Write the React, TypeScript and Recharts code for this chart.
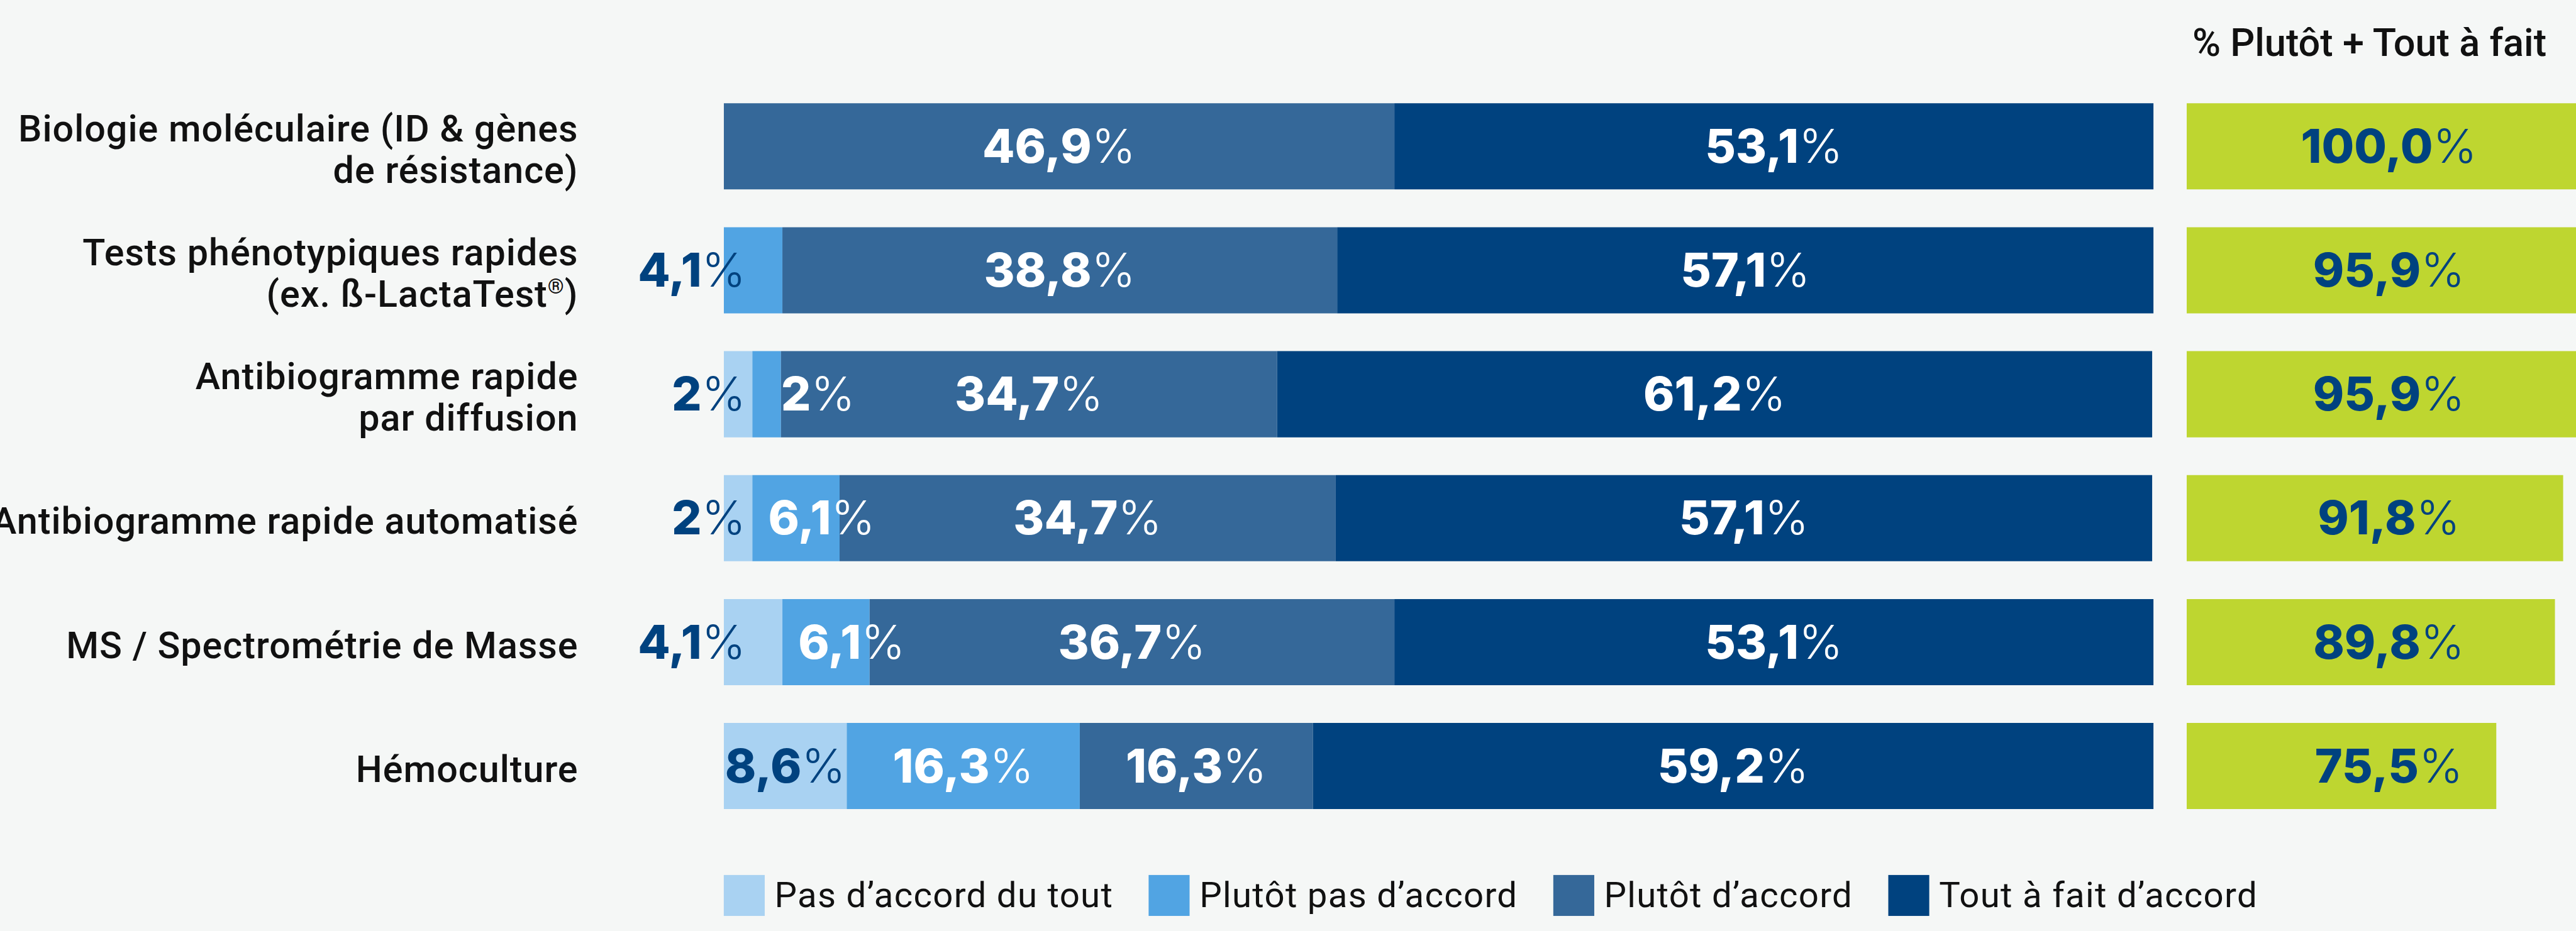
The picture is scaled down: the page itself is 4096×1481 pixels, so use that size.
import React from 'react';
import { BarChart, Bar, XAxis, YAxis, LabelList, Legend } from 'recharts';

const categories = [
  'Biologie moléculaire (ID & gènes\nde résistance)',
  'Tests phénotypiques rapides\n(ex. ß-LactaTest®)',
  'Antibiogramme rapide\npar diffusion',
  'Antibiogramme rapide automatisé',
  'MS / Spectrométrie de Masse',
  'Hémoculture',
];
const pasDuTout = [0, 0, 2, 2, 4.1, 8.6];
const plutotPas = [0, 4.1, 2, 6.1, 6.1, 16.3];
const plutot = [46.9, 38.8, 34.7, 34.7, 36.7, 16.3];
const toutAFait = [53.1, 57.1, 61.2, 57.1, 53.1, 59.2];
const agreeTotal = [100, 95.9, 95.9, 91.8, 89.8, 75.5];

const seriesNames = [
  'Pas d’accord du tout',
  'Plutôt pas d’accord',
  'Plutôt d’accord',
  'Tout à fait d’accord',
];
const seriesKeys = ['pasDuTout', 'plutotPas', 'plutot', 'toutAFait'];
const seriesColors = ['#a9d2f2', '#51a4e3', '#356899', '#00427f'];

const BG = '#f5f7f6';
const GREEN = '#bed630';
const DARK = '#00427f';
const SCALE = 4096 / 4214;
const PLOT_LEFT = 1184;

const rows = categories.map((name, i) => ({
  name,
  pasDuTout: pasDuTout[i],
  plutotPas: plutotPas[i],
  plutot: plutot[i],
  toutAFait: toutAFait[i],
  total: agreeTotal[i],
}));

const fmt = (v: number) => String(v).replace('.', ',');

const ValueText = ({ x, y, anchor, fill, text }: any) => (
  <text x={x} y={y} textAnchor={anchor} fill={fill} fontFamily='Inter' fontSize={77}>
    <tspan fontWeight={800}>{text}</tspan>
    <tspan fontWeight={300}>%</tspan>
  </text>
);

const makeSegmentLabel = (s: number) => (props: any) => {
  const { x, y, width, height, value } = props;
  if (!value) return null;
  // segment sits at the very start of the bar
  const startsBar = Math.abs(Number(x) - PLOT_LEFT) < 2;
  let anchor = 'middle';
  let tx = x + width / 2;
  let fill = s === 0 ? DARK : '#ffffff';
  if (startsBar && width < 120) {
    anchor = 'end';
    tx = x + 36;
    fill = DARK;
  } else if (!startsBar && width < 60) {
    anchor = 'start';
    tx = x + width;
  } else if (!startsBar && width < 200) {
    anchor = 'start';
    tx = x + 26;
  }
  return <ValueText x={tx} y={y + height / 2 + 27} anchor={anchor} fill={fill} text={fmt(value)} />;
};

const TotalLabel = (props: any) => {
  const { x, y, height, value } = props;
  return (
    <ValueText
      x={x + 331}
      y={y + height / 2 + 27}
      anchor='middle'
      fill={DARK}
      text={value.toFixed(1).replace('.', ',')}
    />
  );
};

const renderLine = (line: string) => {
  const parts = line.split('®');
  if (parts.length === 1) return line;
  return (
    <>
      {parts[0]}
      <tspan fontSize={34} dy={-22}>®</tspan>
      <tspan dy={22}>{parts[1]}</tspan>
    </>
  );
};

const CategoryTick = (props: any) => {
  const { y, payload } = props;
  const lines = String(payload.value).split('\n');
  const lh = 68;
  const base = y + 26 - ((lines.length - 1) * lh) / 2;
  return (
    <text
      textAnchor='end'
      fontFamily='Roboto'
      fontWeight={500}
      fontSize={61}
      letterSpacing={1}
      fill='#111'
    >
      {lines.map((l, i) => (
        <tspan key={i} x={946} y={base + i * lh}>
          {renderLine(l)}
        </tspan>
      ))}
    </text>
  );
};

const renderLegend = (props: any) => {
  const payload = [...(props.payload || [])].sort(
    (a: any, b: any) => seriesNames.indexOf(a.value) - seriesNames.indexOf(b.value)
  );
  return (
    <div style={{ display: 'flex', alignItems: 'center' }}>
      {payload.map((entry: any, i: number) => (
        <div key={i} style={{ display: 'flex', alignItems: 'center', marginRight: 58 }}>
          <div style={{ width: 67, height: 67, background: entry.color, marginRight: 16 }} />
          <span
            style={{
              fontFamily: 'Roboto',
              fontSize: 58,
              letterSpacing: 1.3,
              color: '#111',
              lineHeight: '67px',
              whiteSpace: 'nowrap',
            }}
          >
            {entry.value}
          </span>
        </div>
      ))}
    </div>
  );
};

export default function App() {
  return (
    <div style={{ position: 'fixed', inset: 0, background: BG, overflow: 'hidden' }}>
      <div
        style={{
          position: 'absolute',
          left: 0,
          top: 0,
          width: 4214,
          height: 1524,
          transform: `scale(${SCALE})`,
          transformOrigin: '0 0',
        }}
      >
        <div style={{ position: 'absolute', left: 0, top: 0 }}>
          <BarChart
            layout='vertical'
            width={3540}
            height={1524}
            data={rows}
            margin={{ top: 138, right: 17, bottom: 169, left: 0 }}
          >
            <XAxis type='number' domain={[0, 100]} allowDataOverflow hide />
            <YAxis
              type='category'
              dataKey='name'
              width={PLOT_LEFT}
              axisLine={false}
              tickLine={false}
              interval={0}
              tick={<CategoryTick />}
            />
            {seriesKeys.map((key, s) => (
              <Bar
                key={key}
                dataKey={key}
                name={seriesNames[s]}
                stackId='a'
                fill={seriesColors[s]}
                barSize={141}
                isAnimationActive={false}
              >
                <LabelList dataKey={key} content={makeSegmentLabel(s)} />
              </Bar>
            ))}
            <Legend
              layout='horizontal'
              verticalAlign='middle'
              align='center'
              content={renderLegend}
              wrapperStyle={{ left: PLOT_LEFT, top: 1432, width: 'auto' }}
            />
          </BarChart>
        </div>

        <svg width={4214} height={130} style={{ position: 'absolute', left: 0, top: 0 }}>
          <text
            x={3876}
            y={92}
            textAnchor='middle'
            fontFamily='Roboto'
            fontWeight={500}
            fontSize={63}
            fill='#111'
          >
            % Plutôt + Tout à fait
          </text>
        </svg>

        <div
          style={{
            position: 'absolute',
            left: 3577,
            top: 0,
            width: 637,
            height: 1524,
            overflow: 'hidden',
          }}
        >
          <BarChart
            layout='vertical'
            width={700}
            height={1524}
            data={rows}
            margin={{ top: 138, right: 29, bottom: 169, left: 0 }}
          >
            <XAxis type='number' domain={[0, 100]} hide />
            <YAxis type='category' dataKey='name' hide />
            <Bar dataKey='total' fill={GREEN} barSize={141} isAnimationActive={false}>
              <LabelList dataKey='total' content={TotalLabel} />
            </Bar>
          </BarChart>
        </div>
      </div>
    </div>
  );
}
